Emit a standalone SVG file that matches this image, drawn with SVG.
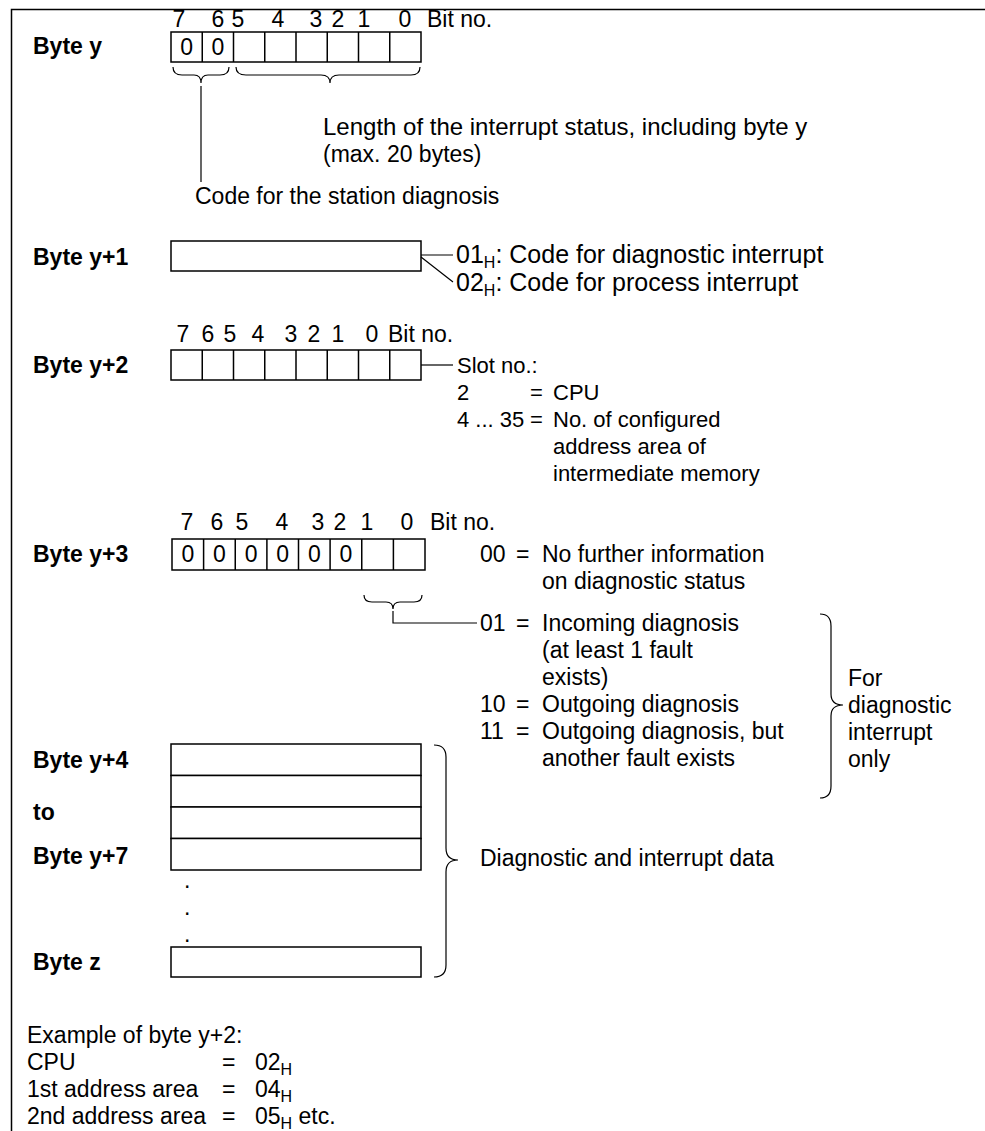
<svg xmlns="http://www.w3.org/2000/svg" width="985" height="1131" viewBox="0 0 985 1131">
<style>
text{font-family:"Liberation Sans",Arial,Helvetica,sans-serif;font-size:23px;fill:#000}
.b{font-weight:bold}
.m{text-anchor:middle}
.n25 text{font-size:25px}
.n22 text{font-size:22px}
.box{fill:#fff;stroke:#000;stroke-width:1.5}
.cell{fill:none;stroke:#000;stroke-width:1.5}
.ln{fill:none;stroke:#000;stroke-width:1.2}
.sub{font-size:16px}
</style>
<rect width="985" height="1131" fill="#fff"/>
<path id="frame" d="M11.5,1131 V9.5 H985" fill="none" stroke="#000" stroke-width="1.5"/>

<g id="byte-y">
  <text class="m" x="179" y="27">7</text><text class="m" x="218" y="27">6</text><text class="m" x="238" y="27">5</text><text class="m" x="278" y="27">4</text><text class="m" x="316" y="27">3</text><text class="m" x="338" y="27">2</text><text class="m" x="364" y="27">1</text><text class="m" x="405" y="27">0</text><text x="427" y="27">Bit no.</text>
  <text class="b" x="33" y="54">Byte y</text>
  <rect class="box" x="171" y="32" width="250" height="30"/>
  <path class="cell" d="M202.25,32V62M233.5,32V62M264.75,32V62M296,32V62M327.25,32V62M358.5,32V62M389.75,32V62"/>
  <text class="m" x="186.6" y="55">0</text><text class="m" x="217.9" y="55">0</text>
</g>

<g id="note-length">
  <text x="323" y="135" style="font-size:24px">Length of the interrupt status, including byte y</text>
  <text x="323" y="162">(max. 20 bytes)</text>
</g>
<g id="note-station">
  <text x="195" y="204">Code for the station diagnosis</text>
</g>

<g id="byte-y1">
  <text class="b" x="33" y="265">Byte y+1</text>
  <rect class="box" x="171" y="241" width="250" height="30"/>
</g>
<g id="note-y1" class="n25">
  <text x="456" y="263">01<tspan class="sub" dy="5">H</tspan><tspan dy="-5">: Code for diagnostic interrupt</tspan></text>
  <text x="456" y="291">02<tspan class="sub" dy="5">H</tspan><tspan dy="-5">: Code for process interrupt</tspan></text>
</g>

<g id="byte-y2">
  <text class="m" x="183" y="342">7</text><text class="m" x="208" y="342">6</text><text class="m" x="230" y="342">5</text><text class="m" x="258" y="342">4</text><text class="m" x="291" y="342">3</text><text class="m" x="314" y="342">2</text><text class="m" x="338" y="342">1</text><text class="m" x="372" y="342">0</text><text x="388" y="342">Bit no.</text>
  <text class="b" x="33" y="373">Byte y+2</text>
  <rect class="box" x="171" y="350" width="250" height="30"/>
  <path class="cell" d="M202.25,350V380M233.5,350V380M264.75,350V380M296,350V380M327.25,350V380M358.5,350V380M389.75,350V380"/>
</g>
<g id="note-slot" class="n22">
  <text x="457" y="373">Slot no.:</text>
  <text x="457" y="400">2</text><text x="530" y="400">=</text><text x="553" y="400">CPU</text>
  <text x="457" y="427">4 ... 35</text><text x="530" y="427">=</text><text x="553" y="427">No. of configured</text>
  <text x="553" y="454">address area of</text>
  <text x="553" y="481">intermediate memory</text>
</g>

<g id="byte-y3">
  <text class="m" x="187" y="530">7</text><text class="m" x="217" y="530">6</text><text class="m" x="242" y="530">5</text><text class="m" x="282" y="530">4</text><text class="m" x="318" y="530">3</text><text class="m" x="340" y="530">2</text><text class="m" x="367" y="530">1</text><text class="m" x="407" y="530">0</text><text x="430" y="530">Bit no.</text>
  <text class="b" x="33" y="562">Byte y+3</text>
  <rect class="box" x="172" y="539" width="253" height="31"/>
  <path class="cell" d="M203.6,539V570M235.25,539V570M266.9,539V570M298.5,539V570M330.1,539V570M361.75,539V570M393.4,539V570"/>
  <text class="m" x="187.8" y="562">0</text><text class="m" x="219.4" y="562">0</text><text class="m" x="251.1" y="562">0</text><text class="m" x="282.7" y="562">0</text><text class="m" x="314.3" y="562">0</text><text class="m" x="346" y="562">0</text>
</g>
<g id="note-status">
  <text x="480" y="562">00</text><text x="516" y="562">=</text><text x="542" y="562">No further information</text>
  <text x="542" y="589">on diagnostic status</text>
  <text x="480" y="631">01</text><text x="516" y="631">=</text><text x="542" y="631">Incoming diagnosis</text>
  <text x="542" y="658">(at least 1 fault</text>
  <text x="542" y="685">exists)</text>
  <text x="480" y="712">10</text><text x="516" y="712">=</text><text x="542" y="712">Outgoing diagnosis</text>
  <text x="480" y="739">11</text><text x="516" y="739">=</text><text x="542" y="739">Outgoing diagnosis, but</text>
  <text x="542" y="766">another fault exists</text>
</g>
<g id="note-diag-only">
  <text x="848" y="686">For</text>
  <text x="848" y="713">diagnostic</text>
  <text x="848" y="740">interrupt</text>
  <text x="848" y="767">only</text>
</g>

<g id="byte-y4-z">
  <text class="b" x="33" y="768">Byte y+4</text>
  <text class="b" x="33" y="820">to</text>
  <text class="b" x="33" y="864">Byte y+7</text>
  <text class="b" x="33" y="970">Byte z</text>
  <rect class="box" x="171" y="744" width="250" height="31.5"/>
  <rect class="box" x="171" y="775.5" width="250" height="31.5"/>
  <rect class="box" x="171" y="807" width="250" height="31.5"/>
  <rect class="box" x="171" y="838.5" width="250" height="31.5"/>
  <text x="184" y="888">.</text>
  <text x="184" y="915">.</text>
  <text x="184" y="942">.</text>
  <rect class="box" x="171" y="947" width="250" height="30"/>
</g>
<g id="note-data">
  <text x="480" y="866">Diagnostic and interrupt data</text>
</g>

<g id="example">
  <text x="27" y="1043">Example of byte y+2:</text>
  <text x="27" y="1070">CPU</text><text x="222" y="1070">=</text><text x="255" y="1070">02<tspan class="sub" dy="5">H</tspan></text>
  <text x="27" y="1097">1st address area</text><text x="222" y="1097">=</text><text x="255" y="1097">04<tspan class="sub" dy="5">H</tspan></text>
  <text x="27" y="1124">2nd address area</text><text x="222" y="1124">=</text><text x="255" y="1124">05<tspan class="sub" dy="5">H</tspan><tspan dy="-5"> etc.</tspan></text>
</g>

<g id="connectors">
  <path class="ln" d="M173,67 Q173,75 182,75 L194,75 Q201,75 201,83 Q201,75 208,75 L220,75 Q229,75 229,67"/>
  <path class="ln" d="M236,67 Q236,75 246,75 L321,75 Q330,75 330,83 Q330,75 339,75 L411,75 Q420,75 420,67"/>
  <path class="ln" d="M201,86 V182"/>
  <path class="ln" d="M421,255 H453 M421,257 L453,282"/>
  <path class="ln" d="M421,365 H453"/>
  <path class="ln" d="M364,595 Q364,602 372,602 L386,602 Q393,602 393,609 Q393,602 400,602 L414,602 Q422,602 422,595"/>
  <path class="ln" d="M393,611 V623 H477"/>
  <path class="ln" d="M820,614 Q831,614 831,626 L831,694 Q831,705 843,705 Q831,705 831,716 L831,786 Q831,798 820,798"/>
  <path class="ln" d="M434,745 Q446,745 446,757 L446,848 Q446,860 458,860 Q446,860 446,872 L446,965 Q446,977 434,977"/>
</g>
</svg>
